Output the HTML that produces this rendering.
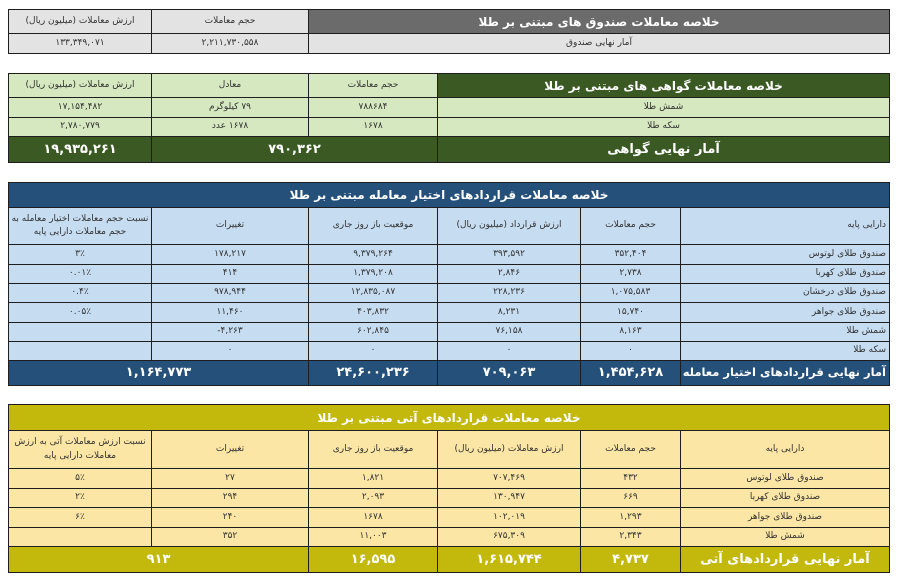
<!DOCTYPE html>
<html><head><meta charset="utf-8"><style>
body{margin:0;width:900px;height:582px;background:#fff;position:relative;overflow:hidden;font-family:"DejaVu Sans","Liberation Sans",sans-serif;}
.c{position:absolute;box-sizing:border-box;border:1px solid #1e1e1e;display:flex;align-items:center;justify-content:center;text-align:center;font-size:9px;color:#333;direction:rtl;line-height:1.5;overflow:hidden;white-space:nowrap}
.w{white-space:normal}
.h{color:#fff;font-weight:bold;font-size:12px}
.t{font-weight:bold;font-size:13px;color:#fff}
.gh{background:#6b6b6b}.gc{background:#e3e3e3}
.nh{background:#3b5a23}.nc{background:#d5e8bf}
.bh{background:#24507a}.bc{background:#c6dcf1}
.yh{background:#c3b80c}.yc{background:#fbe6a5}
</style></head><body>
<!-- table 1 -->
<div class="c gc" style="left:8px;top:9px;width:144px;height:25px">ارزش معاملات (میلیون ریال)</div>
<div class="c gc" style="left:151px;top:9px;width:158px;height:25px">حجم معاملات</div>
<div class="c gh h" style="left:308px;top:9px;width:582px;height:25px">خلاصه معاملات صندوق های مبتنی بر طلا</div>
<div class="c gc" style="left:8px;top:33px;width:144px;height:21px">۱۳۳,۳۴۹,۰۷۱</div>
<div class="c gc" style="left:151px;top:33px;width:158px;height:21px">۲,۲۱۱,۷۳۰,۵۵۸</div>
<div class="c gc" style="left:308px;top:33px;width:582px;height:21px">آمار نهایی صندوق</div>
<!-- table 2 -->
<div class="c nc" style="left:8px;top:73px;width:144px;height:25px">ارزش معاملات (میلیون ریال)</div>
<div class="c nc" style="left:151px;top:73px;width:158px;height:25px">معادل</div>
<div class="c nc" style="left:308px;top:73px;width:130px;height:25px">حجم معاملات</div>
<div class="c nh h" style="left:437px;top:73px;width:453px;height:25px">خلاصه معاملات گواهی های مبتنی بر طلا</div>
<div class="c nc" style="left:8px;top:97px;width:144px;height:21px">۱۷,۱۵۴,۴۸۲</div>
<div class="c nc" style="left:151px;top:97px;width:158px;height:21px">۷۹ کیلوگرم</div>
<div class="c nc" style="left:308px;top:97px;width:130px;height:21px">۷۸۸۶۸۴</div>
<div class="c nc" style="left:437px;top:97px;width:453px;height:21px">شمش طلا</div>
<div class="c nc" style="left:8px;top:117px;width:144px;height:20px">۲,۷۸۰,۷۷۹</div>
<div class="c nc" style="left:151px;top:117px;width:158px;height:20px">۱۶۷۸ عدد</div>
<div class="c nc" style="left:308px;top:117px;width:130px;height:20px">۱۶۷۸</div>
<div class="c nc" style="left:437px;top:117px;width:453px;height:20px">سکه طلا</div>
<div class="c nh t" style="left:8px;top:136px;width:144px;height:27px">۱۹,۹۳۵,۲۶۱</div>
<div class="c nh t" style="left:151px;top:136px;width:287px;height:27px">۷۹۰,۳۶۲</div>
<div class="c nh t" style="left:437px;top:136px;width:453px;height:27px">آمار نهایی گواهی</div>
<!-- table 3 -->
<div class="c bh h" style="left:8px;top:182px;width:882px;height:26px">خلاصه معاملات قراردادهای اختیار معامله مبتنی بر طلا</div>
<div class="c bc w" style="left:8px;top:207px;width:144px;height:38px">نسبت حجم معاملات اختیار معامله به حجم معاملات دارایی پایه</div>
<div class="c bc" style="left:151px;top:207px;width:158px;height:38px">تغییرات</div>
<div class="c bc" style="left:308px;top:207px;width:130px;height:38px">موقعیت باز روز جاری</div>
<div class="c bc" style="left:437px;top:207px;width:144px;height:38px">ارزش قرارداد (میلیون ریال)</div>
<div class="c bc" style="left:580px;top:207px;width:101px;height:38px">حجم معاملات</div>
<div class="c bc" style="left:680px;top:207px;width:210px;height:38px;justify-content:flex-start;padding-right:3px">دارایی پایه</div>

<div class="c bc" style="left:8px;top:244px;width:144px;height:21px">۳٪</div>
<div class="c bc" style="left:151px;top:244px;width:158px;height:21px">۱۷۸,۲۱۷</div>
<div class="c bc" style="left:308px;top:244px;width:130px;height:21px">۹,۳۷۹,۲۶۴</div>
<div class="c bc" style="left:437px;top:244px;width:144px;height:21px">۳۹۳,۵۹۲</div>
<div class="c bc" style="left:580px;top:244px;width:101px;height:21px">۳۵۲,۴۰۴</div>
<div class="c bc" style="left:680px;top:244px;width:210px;height:21px;justify-content:flex-start;padding-right:3px">صندوق طلای لوتوس</div>

<div class="c bc" style="left:8px;top:264px;width:144px;height:20px">۰.۰۱٪</div>
<div class="c bc" style="left:151px;top:264px;width:158px;height:20px">۴۱۴</div>
<div class="c bc" style="left:308px;top:264px;width:130px;height:20px">۱,۳۷۹,۲۰۸</div>
<div class="c bc" style="left:437px;top:264px;width:144px;height:20px">۲,۸۴۶</div>
<div class="c bc" style="left:580px;top:264px;width:101px;height:20px">۲,۷۳۸</div>
<div class="c bc" style="left:680px;top:264px;width:210px;height:20px;justify-content:flex-start;padding-right:3px">صندوق طلای کهربا</div>

<div class="c bc" style="left:8px;top:283px;width:144px;height:20px">۰.۴٪</div>
<div class="c bc" style="left:151px;top:283px;width:158px;height:20px">۹۷۸,۹۴۴</div>
<div class="c bc" style="left:308px;top:283px;width:130px;height:20px">۱۲,۸۳۵,۰۸۷</div>
<div class="c bc" style="left:437px;top:283px;width:144px;height:20px">۲۲۸,۲۳۶</div>
<div class="c bc" style="left:580px;top:283px;width:101px;height:20px">۱,۰۷۵,۵۸۳</div>
<div class="c bc" style="left:680px;top:283px;width:210px;height:20px;justify-content:flex-start;padding-right:3px">صندوق طلای درخشان</div>

<div class="c bc" style="left:8px;top:302px;width:144px;height:21px">۰.۰۵٪</div>
<div class="c bc" style="left:151px;top:302px;width:158px;height:21px">۱۱,۴۶۰</div>
<div class="c bc" style="left:308px;top:302px;width:130px;height:21px">۴۰۳,۸۳۲</div>
<div class="c bc" style="left:437px;top:302px;width:144px;height:21px">۸,۲۳۱</div>
<div class="c bc" style="left:580px;top:302px;width:101px;height:21px">۱۵,۷۴۰</div>
<div class="c bc" style="left:680px;top:302px;width:210px;height:21px;justify-content:flex-start;padding-right:3px">صندوق طلای جواهر</div>

<div class="c bc" style="left:8px;top:322px;width:144px;height:20px"></div>
<div class="c bc" style="left:151px;top:322px;width:158px;height:20px;direction:ltr">-۴,۲۶۳</div>
<div class="c bc" style="left:308px;top:322px;width:130px;height:20px">۶۰۲,۸۴۵</div>
<div class="c bc" style="left:437px;top:322px;width:144px;height:20px">۷۶,۱۵۸</div>
<div class="c bc" style="left:580px;top:322px;width:101px;height:20px">۸,۱۶۳</div>
<div class="c bc" style="left:680px;top:322px;width:210px;height:20px;justify-content:flex-start;padding-right:3px">شمش طلا</div>

<div class="c bc" style="left:8px;top:341px;width:144px;height:20px"></div>
<div class="c bc" style="left:151px;top:341px;width:158px;height:20px">۰</div>
<div class="c bc" style="left:308px;top:341px;width:130px;height:20px">۰</div>
<div class="c bc" style="left:437px;top:341px;width:144px;height:20px">۰</div>
<div class="c bc" style="left:580px;top:341px;width:101px;height:20px">۰</div>
<div class="c bc" style="left:680px;top:341px;width:210px;height:20px;justify-content:flex-start;padding-right:3px">سکه طلا</div>

<div class="c bh t" style="left:8px;top:360px;width:301px;height:26px">۱,۱۶۴,۷۷۳</div>
<div class="c bh t" style="left:308px;top:360px;width:130px;height:26px">۲۴,۶۰۰,۲۳۶</div>
<div class="c bh t" style="left:437px;top:360px;width:144px;height:26px">۷۰۹,۰۶۳</div>
<div class="c bh t" style="left:580px;top:360px;width:101px;height:26px">۱,۴۵۴,۶۲۸</div>
<div class="c bh t" style="left:680px;top:360px;width:210px;height:26px;justify-content:flex-start;padding-right:3px;font-size:11.5px">آمار نهایی قراردادهای اختیار معامله</div>
<!-- table 4 -->
<div class="c yh h" style="left:8px;top:404px;width:882px;height:27px">خلاصه معاملات قراردادهای آتی مبتنی بر طلا</div>
<div class="c yc w" style="left:8px;top:430px;width:144px;height:39px">نسبت ارزش معاملات آتی به ارزش معاملات دارایی پایه</div>
<div class="c yc" style="left:151px;top:430px;width:158px;height:39px">تغییرات</div>
<div class="c yc" style="left:308px;top:430px;width:130px;height:39px">موقعیت باز روز جاری</div>
<div class="c yc" style="left:437px;top:430px;width:144px;height:39px">ارزش معاملات (میلیون ریال)</div>
<div class="c yc" style="left:580px;top:430px;width:101px;height:39px">حجم معاملات</div>
<div class="c yc" style="left:680px;top:430px;width:210px;height:39px">دارایی پایه</div>

<div class="c yc" style="left:8px;top:468px;width:144px;height:21px">۵٪</div>
<div class="c yc" style="left:151px;top:468px;width:158px;height:21px">۲۷</div>
<div class="c yc" style="left:308px;top:468px;width:130px;height:21px">۱,۸۲۱</div>
<div class="c yc" style="left:437px;top:468px;width:144px;height:21px">۷۰۷,۴۶۹</div>
<div class="c yc" style="left:580px;top:468px;width:101px;height:21px">۴۳۲</div>
<div class="c yc" style="left:680px;top:468px;width:210px;height:21px">صندوق طلای لوتوس</div>

<div class="c yc" style="left:8px;top:488px;width:144px;height:20px">۲٪</div>
<div class="c yc" style="left:151px;top:488px;width:158px;height:20px">۲۹۴</div>
<div class="c yc" style="left:308px;top:488px;width:130px;height:20px">۲,۰۹۳</div>
<div class="c yc" style="left:437px;top:488px;width:144px;height:20px">۱۳۰,۹۴۷</div>
<div class="c yc" style="left:580px;top:488px;width:101px;height:20px">۶۶۹</div>
<div class="c yc" style="left:680px;top:488px;width:210px;height:20px">صندوق طلای کهربا</div>

<div class="c yc" style="left:8px;top:507px;width:144px;height:21px">۶٪</div>
<div class="c yc" style="left:151px;top:507px;width:158px;height:21px">۲۴۰</div>
<div class="c yc" style="left:308px;top:507px;width:130px;height:21px">۱۶۷۸</div>
<div class="c yc" style="left:437px;top:507px;width:144px;height:21px">۱۰۲,۰۱۹</div>
<div class="c yc" style="left:580px;top:507px;width:101px;height:21px">۱,۲۹۳</div>
<div class="c yc" style="left:680px;top:507px;width:210px;height:21px">صندوق طلای جواهر</div>

<div class="c yc" style="left:8px;top:527px;width:144px;height:20px"></div>
<div class="c yc" style="left:151px;top:527px;width:158px;height:20px">۳۵۲</div>
<div class="c yc" style="left:308px;top:527px;width:130px;height:20px">۱۱,۰۰۳</div>
<div class="c yc" style="left:437px;top:527px;width:144px;height:20px">۶۷۵,۳۰۹</div>
<div class="c yc" style="left:580px;top:527px;width:101px;height:20px">۲,۳۴۳</div>
<div class="c yc" style="left:680px;top:527px;width:210px;height:20px">شمش طلا</div>

<div class="c yh t" style="left:8px;top:546px;width:301px;height:27px">۹۱۳</div>
<div class="c yh t" style="left:308px;top:546px;width:130px;height:27px">۱۶,۵۹۵</div>
<div class="c yh t" style="left:437px;top:546px;width:144px;height:27px">۱,۶۱۵,۷۴۴</div>
<div class="c yh t" style="left:580px;top:546px;width:101px;height:27px">۴,۷۳۷</div>
<div class="c yh t" style="left:680px;top:546px;width:210px;height:27px">آمار نهایی قراردادهای آتی</div>
</body></html>
